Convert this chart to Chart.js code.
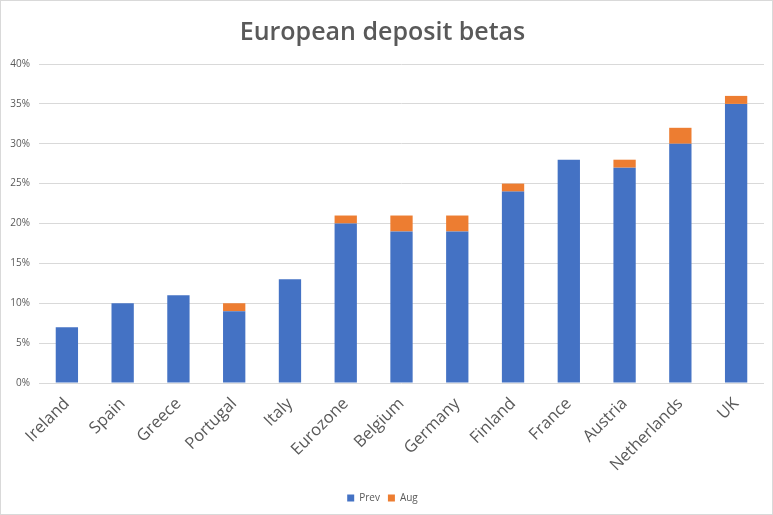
<!DOCTYPE html>
<html>
<head>
<meta charset="utf-8">
<script src="https://cdn.jsdelivr.net/npm/chart.js@4/dist/chart.umd.min.js"></script>
<style>
  html, body { margin: 0; padding: 0; background: #fff; }
  #wrap { position: relative; width: 771px; height: 513px; border: 1px solid #d9d9d9; }
</style>
</head>
<body>
<div id="wrap"><canvas id="c" width="771" height="513"></canvas></div>
<script>
// Deposit beta by country: previous estimate plus the August increment
const countries = ['Ireland', 'Spain', 'Greece', 'Portugal', 'Italy', 'Eurozone', 'Belgium',
                   'Germany', 'Finland', 'France', 'Austria', 'Netherlands', 'UK'];
const prevBeta = [7, 10, 11, 9, 13, 20, 19, 19, 24, 28, 27, 30, 35];
const augBeta  = [0, 0, 0, 1, 0, 1, 2, 2, 1, 0, 1, 2, 1];
const yTicks   = [0, 5, 10, 15, 20, 25, 30, 35, 40];

const grey = '#595959';

new Chart(document.getElementById('c'), {
  type: 'bar',
  data: {
    labels: countries,
    datasets: [
      { label: 'Prev', data: prevBeta, backgroundColor: '#4472C4', barPercentage: 0.4, categoryPercentage: 1 },
      { label: 'Aug',  data: augBeta,  backgroundColor: '#ED7D31', barPercentage: 0.4, categoryPercentage: 1 }
    ]
  },
  options: {
    responsive: false,
    animation: false,
    layout: { padding: { left: 0, right: 8, top: 0, bottom: 1 } },
    plugins: {
      title: {
        display: true,
        text: 'European deposit betas',
        color: grey,
        font: { family: 'Open Sans', size: 25, weight: '600' },
        padding: { top: 17, bottom: 16 }
      },
      legend: {
        position: 'bottom',
        labels: {
          boxWidth: 7, boxHeight: 7, padding: 8,
          color: grey,
          font: { family: 'Open Sans', size: 10 }
        }
      },
      tooltip: { enabled: false }
    },
    scales: {
      x: {
        stacked: true,
        grid: { display: false },
        border: { display: false },
        ticks: {
          color: grey,
          font: { family: 'Open Sans', size: 16.5 },
          maxRotation: 45, minRotation: 45,
          padding: 3
        },
        afterFit: s => { s.height = 102; }
      },
      y: {
        stacked: true,
        min: 0, max: 40,
        afterBuildTicks: s => { s.ticks = yTicks.map(v => ({ value: v })); },
        grid: { color: '#d9d9d9', lineWidth: 1, drawTicks: false },
        border: { display: false },
        ticks: {
          color: grey,
          font: { family: 'Open Sans', size: 10 },
          padding: 9,
          callback: v => v + '%'
        },
        afterFit: s => { s.width = 38; }
      }
    }
  }
});
</script>
</body>
</html>
